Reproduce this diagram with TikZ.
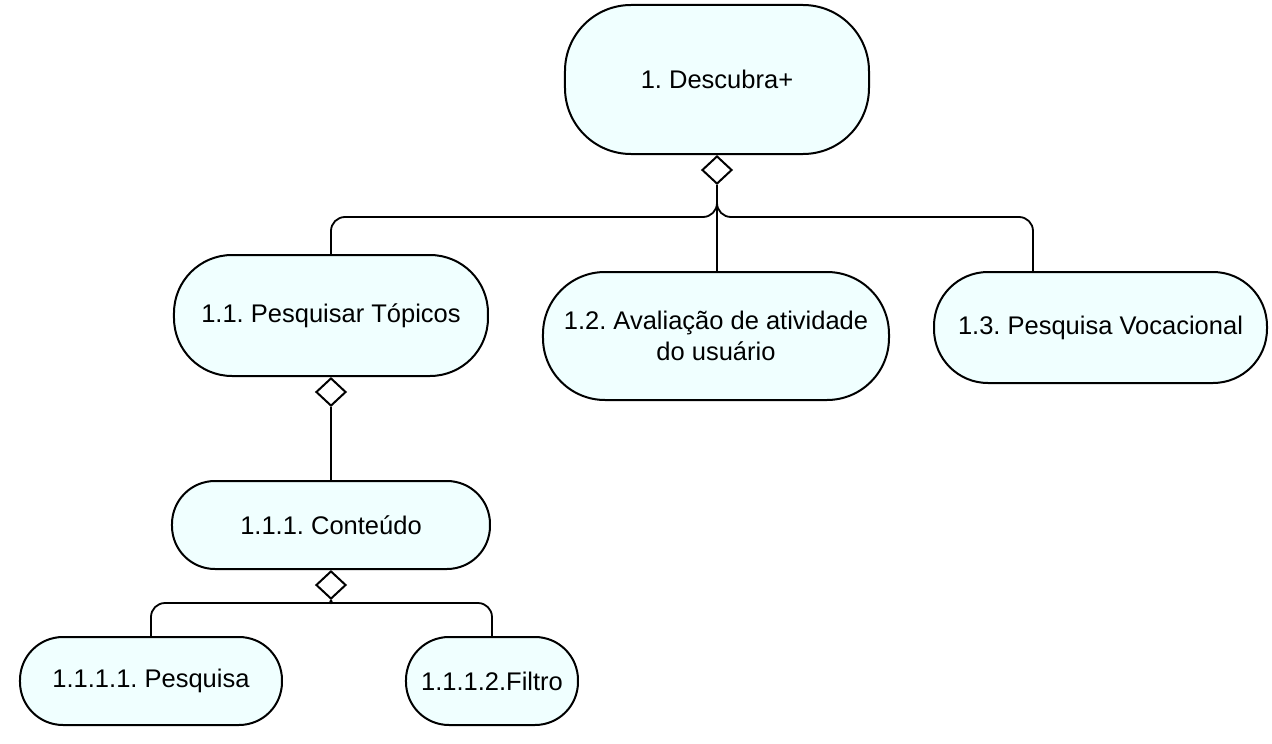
\documentclass[tikz,border=0pt]{standalone}
\usepackage{fontspec}
\setmainfont{Liberation Sans}
\usepackage{tikz}
\usetikzlibrary{positioning,shapes.geometric}
\definecolor{taskfill}{HTML}{F0FFFF}
\frenchspacing
\tikzset{
  task/.style = {rectangle, rounded corners=58pt, draw=black, fill=taskfill,
                 line width=2pt, align=center, inner sep=4pt,
                 font=\fontsize{25.5}{31}\selectfont},
  smalltask/.style = {task, rounded corners=43pt},
  agg/.style  = {diamond, draw=black, fill=white, line width=2pt, inner sep=0pt,
                 minimum width=30pt, minimum height=28pt},
  link/.style = {line width=1.8pt, draw=black, rounded corners=14pt},
}
\begin{document}
\begin{tikzpicture}
  \useasboundingbox (-717pt,79.5pt) rectangle (555pt,-664.5pt);
  \node[task, rounded corners=66pt, minimum width=304pt, minimum height=149pt] (root) {1. Descubra+};
  \node[agg, below=0pt of root] (droot) {};
  \node[task, minimum width=314pt, minimum height=121pt, below=99pt of root, xshift=-386pt] (pesq) {1.1. Pesquisar Tópicos};
  \node[task, rounded corners=62pt, minimum width=346pt, minimum height=128pt, below=116pt of root, xshift=-1pt] (aval) {1.2. Avaliação de atividade\\do usuário};
  \node[task, rounded corners=54pt, minimum width=333pt, minimum height=111pt, below=116pt of root, xshift=383.5pt] (voc) {1.3. Pesquisa Vocacional};
  \node[agg, below=0pt of pesq] (dpesq) {};
  \node[smalltask, minimum width=318pt, minimum height=88pt, below=103pt of pesq] (cont) {1.1.1. Conteúdo};
  \node[agg, below=0pt of cont] (dcont) {};
  \node[smalltask, minimum width=262pt, minimum height=88pt, below=66pt of cont, xshift=-180pt] (busca) {1.1.1.1. Pesquisa};
  \node[smalltask, minimum width=172pt, minimum height=88pt, below=66pt of cont, xshift=161pt] (filtro) {1.1.1.2.Filtro};

  \draw[link] (droot.south) -- ++(0,-32pt) -| (pesq.north);
  \draw[link] (droot.south) -- (droot.south |- aval.north);
  \draw[link] (droot.south) -- ++(0,-32pt) -| ([xshift=-67.5pt]voc.north);
  \draw[link] (dpesq.south) -- (cont.north);
  \draw[link] (dcont.south) to[out=-90,in=0] ++(-10pt,-3pt) -| (busca.north);
  \draw[link] (dcont.south) to[out=-90,in=180] ++(10pt,-3pt) -| (filtro.north);
\end{tikzpicture}
\end{document}
